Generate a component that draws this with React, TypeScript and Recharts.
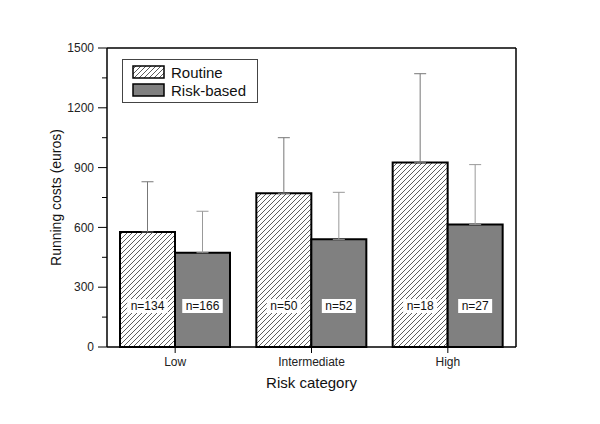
import { Bar, BarChart, CartesianGrid, ErrorBar, LabelList, Legend, XAxis, YAxis } from "recharts";

const categories = ["Low", "Intermediate", "High"];
const routineCost = [577, 771, 925];
const routineSd = [252, 279, 446];
const routineN = [134, 50, 18];
const riskCost = [473, 540, 614];
const riskSd = [208, 236, 301];
const riskN = [166, 52, 27];
const yTicks = [0, 150, 300, 450, 600, 750, 900, 1050, 1200, 1350, 1500];

const data = categories.map((name, i) => ({
  name,
  routine: routineCost[i],
  routineErr: [0, routineSd[i]],
  routineN: `n=${routineN[i]}`,
  risk: riskCost[i],
  riskErr: [0, riskSd[i]],
  riskN: `n=${riskN[i]}`,
}));

const FONT = "'Liberation Sans', Arial, Helvetica, sans-serif";

function YTick(props: any) {
  const { x, y, payload } = props;
  const major = payload.value % 300 === 0;
  return (
    <g>
      <line x1={x} x2={x - (major ? 9 : 5)} y1={y} y2={y} stroke="#000" strokeWidth={1} />
      {major && (
        <text x={x - 13} y={y} dy="0.35em" textAnchor="end" fontSize={12} fill="#222" fontFamily={FONT}>
          {payload.value}
        </text>
      )}
    </g>
  );
}

function CountLabel(props: any) {
  const { x, y, width, height, value } = props;
  const cx = x + width / 2;
  const cy = y + height - 41;
  const w = String(value).length * 6.5 + 8;
  return (
    <g>
      <rect x={cx - w / 2} y={cy - 7} width={w} height={14} fill="#fff" />
      <text x={cx} y={cy} dy="0.36em" textAnchor="middle" fontSize={12} fill="#111" fontFamily={FONT}>
        {value}
      </text>
    </g>
  );
}

function LegendBox() {
  const row = (fill: string, label: string) => (
    <div style={{ display: "flex", alignItems: "center", height: 18 }}>
      <svg width={34} height={15} style={{ marginLeft: 9, marginRight: 5 }}>
        <rect x={1} y={1} width={31} height={12} fill={fill} stroke="#000" strokeWidth={1.5} />
      </svg>
      <span style={{ fontSize: 15, fontFamily: FONT, color: "#111" }}>{label}</span>
    </div>
  );
  return (
    <div
      style={{
        width: 136,
        height: 44,
        border: "1px solid #444",
        boxSizing: "border-box",
        paddingTop: 3,
        background: "#fff",
      }}
    >
      {row("url(#hatch)", "Routine")}
      {row("#808080", "Risk-based")}
    </div>
  );
}

export default function App() {
  return (
    <div style={{ position: "absolute", left: 0, top: 0, width: 600, height: 424, background: "#fff" }}>
      <BarChart
        width={600}
        height={424}
        data={data}
        margin={{ top: 48, right: 84, bottom: 49, left: 47 }}
        barCategoryGap={13}
        barGap={0}
      >
        <defs>
          <pattern id="hatch" patternUnits="userSpaceOnUse" width={5} height={5}>
            <rect width={5} height={5} fill="#fff" />
            <path d="M0,5 L5,0 M-1,1 L1,-1 M4,6 L6,4" stroke="#333" strokeWidth={0.8} />
          </pattern>
        </defs>
        <CartesianGrid
          stroke="#000"
          strokeWidth={1.5}
          horizontalCoordinatesGenerator={({ offset }: any) => [offset.top]}
          verticalCoordinatesGenerator={({ offset }: any) => [offset.left + offset.width]}
        />
        <XAxis
          dataKey="name"
          height={28}
          tickSize={6}
          tickMargin={4}
          axisLine={{ stroke: "#000", strokeWidth: 1.5 }}
          tickLine={{ stroke: "#000" }}
          tick={{ fontSize: 12, fill: "#222", fontFamily: FONT }}
          label={{ value: "Risk category", position: "bottom", offset: 2, fontSize: 15, fill: "#111", fontFamily: FONT }}
        />
        <YAxis
          width={60}
          domain={[0, 1500]}
          ticks={yTicks}
          interval={0}
          tickSize={0}
          tickMargin={0}
          tickLine={false}
          axisLine={{ stroke: "#000", strokeWidth: 1.5 }}
          tick={<YTick />}
          label={{ value: "Running costs (euros)", angle: -90, position: "center", dx: -21, fontSize: 14, fill: "#111", fontFamily: FONT }}
        />
        <Legend
          verticalAlign="middle"
          align="center"
          wrapperStyle={{ left: 122, top: 59, width: 136, height: 44 }}
          content={() => <LegendBox />}
        />
        <Bar dataKey="routine" name="Routine" fill="url(#hatch)" stroke="#000" strokeWidth={2} isAnimationActive={false}>
          <ErrorBar dataKey="routineErr" direction="y" width={6} stroke="#777" strokeWidth={1} isAnimationActive={false} />
          <LabelList dataKey="routineN" content={<CountLabel />} />
        </Bar>
        <Bar dataKey="risk" name="Risk-based" fill="#808080" stroke="#000" strokeWidth={2} isAnimationActive={false}>
          <ErrorBar dataKey="riskErr" direction="y" width={6} stroke="#999" strokeWidth={1} isAnimationActive={false} />
          <LabelList dataKey="riskN" content={<CountLabel />} />
        </Bar>
      </BarChart>
    </div>
  );
}
